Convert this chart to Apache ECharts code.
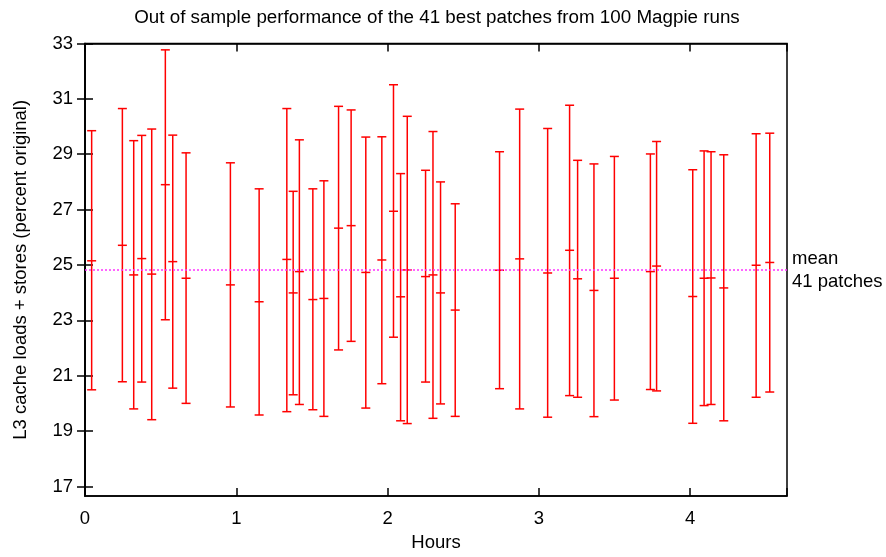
<!DOCTYPE html>
<html>
<head>
<meta charset="utf-8">
<script src="https://cdn.jsdelivr.net/npm/echarts@6/dist/echarts.min.js"></script>
<style>html,body{margin:0;padding:0;background:#fff}#c{width:886px;height:557px}</style>
</head>
<body>
<div id="c"></div>
<script>
var hours = [0.044,0.247,0.322,0.375,0.441,0.531,0.580,0.668,0.961,1.151,1.334,1.376,1.417,1.506,1.579,1.676,1.759,1.856,1.962,2.039,2.086,2.130,2.251,2.300,2.350,2.447,2.740,2.873,3.058,3.203,3.256,3.364,3.499,3.737,3.778,4.017,4.092,4.138,4.222,4.436,4.526];
var lows  = [20.49,20.78,19.80,20.77,19.41,23.02,20.55,20.00,19.87,19.58,19.70,20.31,19.96,19.77,19.53,21.93,22.24,19.83,20.71,22.39,19.37,19.27,20.77,19.46,19.98,19.53,20.53,19.80,19.50,20.28,20.22,19.52,20.12,20.50,20.45,19.28,19.92,19.96,19.37,20.22,20.41];
var means = [25.15,25.71,24.64,25.23,24.67,27.90,25.12,24.52,24.28,23.67,25.20,23.99,24.76,23.75,23.79,26.33,26.42,24.73,25.18,26.94,23.85,24.82,24.58,24.64,23.99,23.37,24.81,25.22,24.71,25.53,24.50,24.08,24.52,24.76,24.96,23.86,24.52,24.53,24.17,24.99,25.09];
var highs = [29.85,30.65,29.49,29.68,29.91,32.77,29.69,29.05,28.69,27.75,30.65,27.66,29.52,27.75,28.04,30.73,30.60,29.62,29.63,31.51,28.30,30.37,28.42,29.82,28.00,27.21,29.09,30.63,29.93,30.77,28.78,28.65,28.92,29.01,29.46,28.44,29.12,29.09,28.98,29.74,29.76];
var overallMean = 24.81;
var yTicks = [17,19,21,23,25,27,29,31,33];
var xTicks = [0,1,2,3,4];

var data = hours.map(function(h,i){return [h, lows[i], means[i], highs[i]];});
var FONT = 'Liberation Sans';
var FS = 18.5;
var chart = echarts.init(document.getElementById('c'), null, {renderer:'canvas'});
var tickStyle = {show:true, inside:true, length:8, lineStyle:{color:'#000', width:1.5}};
chart.setOption({
  animation:false,
  backgroundColor:'#fff',
  title:{text:'Out of sample performance of the 41 best patches from 100 Magpie runs', left:437, textAlign:'center', top:8, padding:0,
    textStyle:{fontFamily:FONT, fontSize:18.8, fontWeight:'normal', color:'#000'}},
  grid:{left:85, right:99, top:43.5, bottom:59, show:true, borderColor:'#000', borderWidth:1.5},
  xAxis:[{type:'value', min:0, max:4.64, interval:1, position:'bottom',
    name:'Hours', nameLocation:'middle', nameGap:30.5, nameTextStyle:{fontFamily:FONT, fontSize:FS, color:'#000'},
    axisLine:{show:true, lineStyle:{color:'#000', width:1.5}}, axisTick:tickStyle, splitLine:{show:false},
    axisLabel:{fontFamily:FONT, fontSize:FS, color:'#000', margin:13, customValues:xTicks}},
   {type:'value', min:0, max:4.64, interval:1, position:'top',
    axisLine:{show:true, lineStyle:{color:'#000', width:1.5}}, axisTick:tickStyle, splitLine:{show:false}, axisLabel:{show:false}}],
  yAxis:[{type:'value', min:16.65, max:33, position:'left',
    name:'L3 cache loads + stores (percent original)', nameLocation:'middle', nameGap:55, nameRotate:90,
    nameTextStyle:{fontFamily:FONT, fontSize:FS, color:'#000'},
    axisLine:{show:true, lineStyle:{color:'#000', width:1.5}},
    axisTick:{show:true, inside:true, length:8, lineStyle:{color:'#000', width:1.5}, customValues:yTicks},
    splitLine:{show:false},
    axisLabel:{fontFamily:FONT, fontSize:FS, color:'#000', margin:12, customValues:yTicks}},
   {type:'value', min:16.65, max:33, position:'right',
    axisLine:{show:true, lineStyle:{color:'#000', width:1.5}},
    axisTick:{show:true, inside:true, length:8, lineStyle:{color:'#000', width:1.5}, customValues:yTicks},
    splitLine:{show:false}, axisLabel:{show:false}}],
  series:[{
    type:'custom', xAxisIndex:0, yAxisIndex:0, data:data, clip:false,
    renderItem:function(params, api){
      var lo = api.coord([api.value(0), api.value(1)]);
      var mi = api.coord([api.value(0), api.value(2)]);
      var hi = api.coord([api.value(0), api.value(3)]);
      var x = lo[0];
      var st = {stroke:'#ff0000', lineWidth:1.5};
      var cw = 4.5;
      return {type:'group', children:[
        {type:'line', shape:{x1:x, y1:lo[1], x2:x, y2:hi[1]}, style:st},
        {type:'line', shape:{x1:x-cw, y1:lo[1], x2:x+cw, y2:lo[1]}, style:st},
        {type:'line', shape:{x1:x-cw, y1:hi[1], x2:x+cw, y2:hi[1]}, style:st},
        {type:'line', shape:{x1:x-cw, y1:mi[1], x2:x+cw, y2:mi[1]}, style:st}
      ]};
    },
    markLine:{silent:true, symbol:['none','none'],
      lineStyle:{color:'#ff33ff', type:[2,2], width:1.5},
      label:{show:true, position:'end', formatter:'mean\n41 patches', fontFamily:FONT, fontSize:FS, color:'#000', lineHeight:23, distance:5},
      data:[{yAxis:overallMean}]}
  }]
});
</script>
</body>
</html>
